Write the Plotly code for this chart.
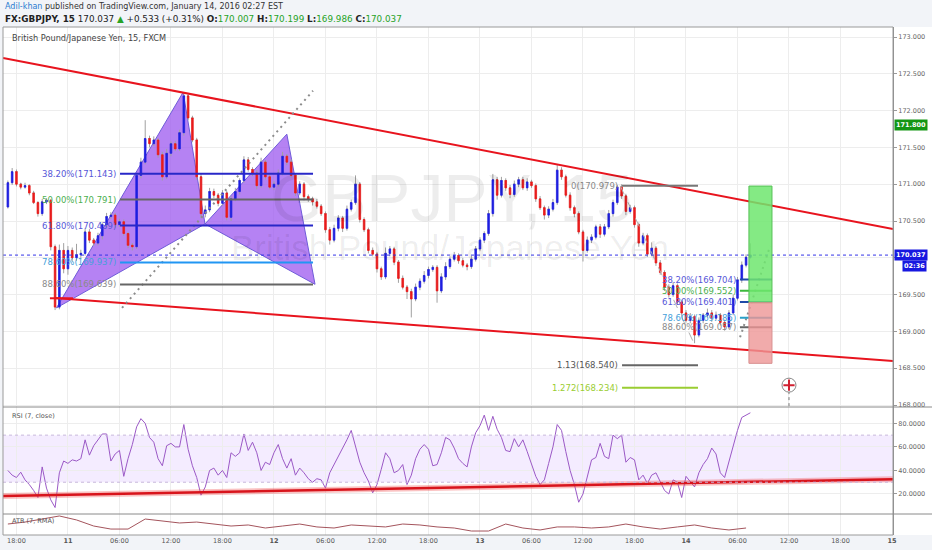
import plotly.graph_objects as go
from plotly.subplots import make_subplots
import pandas as pd

# GBPJPY, taken as 30 minute bars (the chart itself is 15 min)
bar_start = '2016-01-10 17:00'
first_open = 170.69
closes = [
    171.02, 171.17, 171.00, 170.96, 170.98, 170.88, 170.75, 170.60, 170.76, 170.78,
    170.15, 169.33, 170.10, 169.85, 170.10, 170.00, 170.04, 170.06, 170.35, 170.24,
    170.20, 170.30, 170.45, 170.56, 170.58, 170.45, 170.49, 170.33, 170.17, 170.15,
    171.12, 171.30, 171.62, 171.55, 171.60, 171.40, 171.10, 171.42, 171.55, 171.48,
    171.70, 172.20, 171.90, 171.60, 171.10, 170.60, 170.65, 170.90, 170.85, 170.74,
    170.88, 170.55, 170.80, 170.90, 171.05, 171.33, 171.20, 171.15, 170.98, 171.30,
    171.10, 170.96, 171.00, 171.15, 171.38, 171.30, 171.12, 170.88, 171.00, 170.83,
    170.80, 170.76, 170.70, 170.60, 170.38, 170.24, 170.40, 170.54, 170.40, 170.66,
    170.75, 171.00, 170.52, 170.38, 170.10, 170.05, 169.85, 169.74, 170.06, 170.12,
    169.94, 169.72, 169.60, 169.54, 169.44, 169.60, 169.68, 169.76, 169.84, 169.87,
    169.55, 169.74, 169.88, 169.98, 170.03, 169.96, 169.90, 169.88, 169.98, 170.12,
    170.24, 170.33, 170.60, 171.06, 170.85, 171.05, 170.95, 170.86, 171.00, 171.06,
    170.95, 171.03, 170.98, 170.80, 170.68, 170.58, 170.66, 170.75, 171.19, 171.10,
    170.85, 170.68, 170.60, 170.35, 170.10, 170.24, 170.28, 170.42, 170.32, 170.42,
    170.60, 170.75, 170.96, 170.84, 170.63, 170.68, 170.45, 170.20, 170.30, 170.05,
    170.13, 169.93, 169.80, 169.60, 169.50, 169.62, 169.40, 169.25, 169.15, 169.20,
    168.95, 169.15, 169.22, 169.25, 169.18, 169.22, 169.12, 169.06, 169.25, 169.45,
    169.70, 169.90, 170.007, 170.037,
]
# wick lengths in pips above / below the body
wick_up = [
    3, 5, 3, 2, 4, 2, 3, 2, 4, 3,
    2, 3, 8, 10, 6, 4, 15, 5, 5, 4,
    3, 4, 3, 5, 4, 3, 4, 3, 2, 3,
    3, 6, 25, 4, 5, 3, 4, 6, 3, 4,
    4, 5, 4, 3, 3, 4, 6, 5, 4, 3,
    4, 3, 4, 5, 3, 5, 4, 3, 4, 6,
    3, 3, 4, 5, 6, 3, 4, 3, 4, 3,
    3, 3, 4, 3, 3, 4, 5, 4, 3, 5,
    4, 12, 3, 3, 3, 4, 3, 3, 8, 4,
    3, 3, 4, 3, 4, 5, 4, 6, 4, 3,
    3, 5, 6, 4, 5, 3, 4, 3, 5, 4,
    4, 3, 5, 8, 4, 5, 3, 4, 5, 4,
    4, 5, 3, 3, 4, 3, 4, 5, 8, 4,
    3, 4, 3, 3, 3, 5, 4, 3, 4, 4,
    5, 4, 3, 4, 3, 4, 3, 3, 4, 3,
    8, 3, 4, 3, 4, 5, 3, 3, 4, 5,
    3, 4, 3, 6, 4, 5, 3, 4, 4, 5,
    4, 5, 4, 16,
]
wick_dn = [
    2, 3, 3, 3, 2, 3, 2, 4, 3, 3,
    5, 4, 3, 6, 8, 5, 4, 6, 3, 4,
    4, 3, 5, 3, 3, 4, 3, 3, 4, 5,
    3, 4, 3, 5, 3, 4, 5, 3, 4, 3,
    3, 4, 3, 3, 4, 6, 5, 3, 4, 4,
    3, 4, 5, 3, 4, 3, 3, 4, 5, 3,
    4, 3, 4, 3, 3, 4, 3, 4, 3, 5,
    4, 5, 3, 3, 4, 6, 3, 4, 5, 3,
    3, 3, 4, 3, 4, 3, 5, 4, 3, 4,
    4, 6, 3, 10, 25, 3, 4, 3, 4, 3,
    16, 3, 4, 3, 3, 4, 3, 5, 3, 3,
    3, 4, 3, 4, 6, 3, 4, 5, 3, 4,
    3, 4, 3, 4, 3, 6, 4, 3, 3, 4,
    3, 4, 5, 3, 15, 3, 4, 3, 5, 3,
    3, 4, 3, 4, 5, 3, 4, 5, 3, 4,
    3, 4, 3, 5, 4, 3, 4, 5, 3, 4,
    11, 3, 4, 3, 5, 3, 4, 5, 3, 3,
    3, 4, 3, 2,
]
rsi = [
    40, 36, 34, 38.5, 32, 28, 23, 17, 43, 25,
    15, 8.5, 38, 48, 46, 49, 48, 50, 66, 53,
    61, 66, 71, 71, 48, 54, 57, 35, 50, 62,
    77, 84, 80, 68, 64, 50, 44, 61, 63, 60,
    60, 79, 58, 44, 34, 19, 26, 40, 42, 36,
    40, 34, 55, 52, 55, 71, 57, 64, 55, 40,
    47, 45, 55, 62, 50, 42, 50, 36, 42, 38,
    33, 30, 33, 32, 25, 38, 45, 51, 58, 66,
    74, 60, 47, 38, 31, 21, 28, 41, 55, 50,
    38, 40, 45, 28, 36, 50, 58, 62, 58, 44,
    45, 55, 68, 66, 59, 50, 46, 43, 60, 72,
    78, 87, 74, 86, 75, 68, 57, 56, 67, 60,
    66, 56, 45, 35, 28, 32, 46, 60, 79, 74,
    56, 40, 28, 13, 20, 34, 49, 51, 63, 52,
    50, 70, 67, 70, 47, 51, 49, 32, 36, 29,
    36, 38, 31, 23, 20, 32, 30, 17, 35, 30,
    26, 38, 45, 50, 59, 54, 38, 34, 48, 62,
    74, 85, 87, 89,
]
# ATR(7) every 4th bar
atr = [
    0.114, 0.131, 0.157, 0.183, 0.149, 0.097, 0.071, 0.071, 0.157, 0.140,
    0.123, 0.131, 0.114, 0.097, 0.106, 0.080, 0.097, 0.114, 0.089, 0.080,
    0.106, 0.097, 0.089, 0.114, 0.106, 0.089, 0.080, 0.054, 0.054, 0.114,
    0.080, 0.063, 0.089, 0.089, 0.080, 0.089, 0.114, 0.089, 0.071, 0.089,
    0.106, 0.080, 0.063, 0.080,
]

# drawings
pattern_t = ['2016-01-10 22:40', '2016-01-11 13:25', '2016-01-11 15:58', '2016-01-12 01:30', '2016-01-12 04:47']
pattern_p = [169.32, 172.25, 170.46, 171.68, 169.64]
chan_top_t = ['2016-01-10 16:26', '2016-01-15 00:07']
chan_top_p = [172.715, 170.391]
chan_bot_t = ['2016-01-10 22:29', '2016-01-15 00:07']
chan_bot_p = [169.455, 168.598]
stub_t = ['2016-01-10 21:54', '2016-01-11 00:35']
stub_p = [169.45, 169.45]
rsi_trend_t = ['2016-01-10 16:26', '2016-01-15 00:07']
rsi_trend_v = [18.3, 32.6]
proj1_t = ['2016-01-11 06:18', '2016-01-12 04:33']
proj1_p = [169.32, 172.27]
proj2_t = ['2016-01-14 06:18', '2016-01-14 09:48']
proj2_p = [168.92, 170.16]

fib_left_t = ['2016-01-11 06:04', '2016-01-12 04:33']
fib_left_lvl = ['38.20%', '50.00%', '61.80%', '78.60%', '88.60%']
fib_left_p = [171.143, 170.791, 170.439, 169.937, 169.639]
fib_left_txt = ['#5656d8', '#4caf50', '#5656d8', '#45a0da', '#8a8a8a']
fib_left_line = ['#2828c8', '#666666', '#2828c8', '#2196f3', '#666666']

fib_ext_t = ['2016-01-13 16:33', '2016-01-14 01:24']
fib_ext_lvl = ['0', '1.13', '1.272']
fib_ext_p = [170.979, 168.540, 168.234]
fib_ext_txt = ['#8a8a8a', '#555555', '#9acd32']
fib_ext_line = ['#777777', '#666666', '#9acd32']
fib_ext_leg_t = ['2016-01-13 16:20', '2016-01-14 01:00']
fib_ext_leg_p = [170.979, 168.821]

fib_right_t = ['2016-01-14 06:17', '2016-01-14 10:01']
fib_right_lvl = ['38.20%', '50.00%', '61.80%', '78.60%', '88.60%']
fib_right_p = [169.704, 169.552, 169.401, 169.185, 169.057]
fib_right_txt = ['#5656d8', '#4caf50', '#5656d8', '#45a0da', '#8a8a8a']
fib_right_line = ['#1f4aa8', '#3cb83c', '#1f4aa8', '#2aa0c8', '#666666']

box_t = ['2016-01-14 07:20', '2016-01-14 10:01']
box_profit = [169.39, 170.975]
box_stop = [168.566, 169.39]
event_t = '2016-01-14 12:00'
event_p = 168.27

last_price = 170.037
alert_price = 171.800

x_range = ['2016-01-10 16:26', '2016-01-15 00:07']

times = pd.date_range(bar_start, periods=len(closes), freq='30min')
opens = [first_open] + closes[:-1]
body_top = [max(o, c) for o, c in zip(opens, closes)]
body_bot = [min(o, c) for o, c in zip(opens, closes)]
highs = [t + u / 100 for t, u in zip(body_top, wick_up)]
lows = [b - d / 100 for b, d in zip(body_bot, wick_dn)]

UP = '#1f1fe0'
DOWN = '#e81c1c'
FONT = 'DejaVu Sans'

fig = make_subplots(rows=3, cols=1, shared_xaxes=True, vertical_spacing=0,
                    row_heights=[380, 107, 21])

# wicks (grey) then bodies
fig.add_trace(go.Candlestick(
    x=times, open=body_top, close=body_top, high=highs, low=lows,
    increasing=dict(line=dict(color='#a0a0a0', width=1), fillcolor='#a0a0a0'),
    decreasing=dict(line=dict(color='#a0a0a0', width=1), fillcolor='#a0a0a0'),
    hoverinfo='skip', showlegend=False), row=1, col=1)
fig.add_trace(go.Candlestick(
    x=times, open=opens, close=closes, high=body_top, low=body_bot,
    increasing=dict(line=dict(color=UP, width=0.8), fillcolor=UP),
    decreasing=dict(line=dict(color=DOWN, width=0.8), fillcolor=DOWN),
    hoverinfo='skip', showlegend=False), row=1, col=1)


def add_line(t, p, color, width=1, dash=None, row=1):
    fig.add_trace(go.Scatter(x=t, y=p, mode='lines', hoverinfo='skip', showlegend=False,
                             line=dict(color=color, width=width, dash=dash)), row=row, col=1)


# channel
add_line(chan_top_t, chan_top_p, '#e8141e', 2)
add_line(chan_bot_t, chan_bot_p, '#e8141e', 2)
add_line(stub_t, stub_p, '#e8141e', 2)

# projection dots
add_line(proj1_t, proj1_p, '#8c8c8c', 2, '2px,4px')
add_line(proj2_t, proj2_p, '#8c8c8c', 2, '2px,4px')
add_line(fib_ext_leg_t, fib_ext_leg_p, '#b0b0b0', 1, 'dash')

annotations = []


def fib_block(t, levels, prices, txt_colors, line_colors, size=8.5):
    for lvl, p, tc, lc in zip(levels, prices, txt_colors, line_colors):
        add_line(t, [p, p], lc, 2)
        annotations.append(dict(x=t[0], y=p, xref='x', yref='y', text=f'{lvl}({p:.3f})',
                                showarrow=False, xanchor='right', yanchor='middle', xshift=-2,
                                font=dict(family=FONT, size=size, color=tc)))


fib_block(fib_left_t, fib_left_lvl, fib_left_p, fib_left_txt, fib_left_line)
fib_block(fib_ext_t, fib_ext_lvl, fib_ext_p, fib_ext_txt, fib_ext_line)
fib_block(fib_right_t, fib_right_lvl, fib_right_p, fib_right_txt, fib_right_line)

# last price
add_line(x_range, [last_price, last_price], '#3535e8', 1, 'dot')

# event marker
fig.add_trace(go.Scatter(x=[event_t, event_t], y=[event_p, 167.9], mode='lines', hoverinfo='skip',
                         showlegend=False, line=dict(color='#777', width=1, dash='dot')), row=1, col=1)
fig.add_trace(go.Scatter(x=[event_t], y=[event_p], mode='markers', hoverinfo='skip', showlegend=False,
                         marker=dict(symbol='circle', size=14, color='white',
                                     line=dict(color='#888', width=1))), row=1, col=1)
fig.add_trace(go.Scatter(x=[event_t], y=[event_p], mode='markers', hoverinfo='skip', showlegend=False,
                         marker=dict(symbol='cross-thin', size=8, line=dict(color='#d02030', width=2))),
              row=1, col=1)

# RSI
fig.add_trace(go.Scatter(x=times, y=rsi, mode='lines', hoverinfo='skip', showlegend=False,
                         line=dict(color='#9b59c6', width=1)), row=2, col=1)
add_line(rsi_trend_t, rsi_trend_v, 'rgba(240,80,80,0.35)', 6, row=2)
add_line(rsi_trend_t, rsi_trend_v, '#d8141c', 2.5, row=2)

# ATR
fig.add_trace(go.Scatter(x=times[::4], y=atr, mode='lines', hoverinfo='skip', showlegend=False,
                         line=dict(color='#a4545c', width=1)), row=3, col=1)


def px(x, y):
    # pixel position in the 932x550 page -> paper coordinates
    return (x - 3) / 890, (535 - y) / 508


def path_of(ts, ps):
    pts = [f"{pd.Timestamp(t).strftime('%Y-%m-%d_%H:%M:%S')},{p}" for t, p in zip(ts, ps)]
    return 'M ' + ' L '.join(pts) + ' Z'


shapes = [
    # harmonic pattern triangles XAB and BCD
    dict(type='path', xref='x', yref='y', layer='between',
         path=path_of(pattern_t[0:3], pattern_p[0:3]),
         fillcolor='rgba(160,95,240,0.78)', line=dict(color='#6f5bd8', width=1)),
    dict(type='path', xref='x', yref='y', layer='between',
         path=path_of(pattern_t[2:5], pattern_p[2:5]),
         fillcolor='rgba(160,95,240,0.78)', line=dict(color='#6f5bd8', width=1)),
    # long position boxes
    dict(type='rect', xref='x', yref='y', x0=box_t[0], x1=box_t[1], y0=box_profit[0], y1=box_profit[1],
         fillcolor='rgba(110,230,110,0.85)', line=dict(color='#55c055', width=1)),
    dict(type='rect', xref='x', yref='y', x0=box_t[0], x1=box_t[1], y0=box_stop[0], y1=box_stop[1],
         fillcolor='rgba(238,150,150,0.8)', line=dict(color='#d89090', width=1)),
    # RSI band
    dict(type='rect', xref='paper', yref='y2', x0=0, x1=1, y0=30, y1=70, layer='below',
         fillcolor='rgba(170,110,255,0.13)', line=dict(width=0)),
    dict(type='line', xref='paper', yref='y2', x0=0, x1=1, y0=70, y1=70,
         line=dict(color='#c8b8dc', width=1, dash='dot')),
    dict(type='line', xref='paper', yref='y2', x0=0, x1=1, y0=30, y1=30,
         line=dict(color='#c8b8dc', width=1, dash='dot')),
    # right axis background, frame and pane dividers
    dict(type='rect', xref='paper', yref='paper', x0=1, x1=1 + 39 / 890, y0=0, y1=1, layer='below',
         fillcolor='white', line=dict(width=0)),
    dict(type='rect', xref='paper', yref='paper', x0=0, x1=1, y0=0, y1=1,
         line=dict(color='#9a9a9a', width=1)),
    dict(type='line', xref='paper', yref='paper', x0=0, x1=1 + 39 / 890, y0=px(0, 407)[1], y1=px(0, 407)[1],
         line=dict(color='#8a8a8a', width=1)),
    dict(type='line', xref='paper', yref='paper', x0=0, x1=1 + 39 / 890, y0=px(0, 514)[1], y1=px(0, 514)[1],
         line=dict(color='#8a8a8a', width=1)),
]

# watermark and labels
wx, wy = px(452, 198)
annotations.append(dict(x=wx, y=wy, xref='paper', yref='paper', text='GBPJPY, 15', showarrow=False,
                        font=dict(family='Liberation Sans', size=66, color='rgba(0,0,0,0.07)')))
wx, wy = px(450, 247)
annotations.append(dict(x=wx, y=wy, xref='paper', yref='paper', text='British Pound/Japanese Yen',
                        showarrow=False,
                        font=dict(family='Liberation Sans', size=35, color='rgba(0,0,0,0.07)')))

hx, hy = px(3, 6)
annotations.append(dict(x=hx, y=hy, xref='paper', yref='paper', xanchor='left', yanchor='middle',
                        showarrow=False,
                        text="<span style='color:#2a7bd0'>Adil-khan</span> published on TradingView.com, "
                             "January 14, 2016 02:27 EST",
                        font=dict(family=FONT, size=8, color='#333')))
hx, hy = px(3, 19)
g = "<span style='color:#27a327'>"
annotations.append(dict(x=hx, y=hy, xref='paper', yref='paper', xanchor='left', yanchor='middle',
                        showarrow=False,
                        text=f"<b>FX:GBPJPY, 15</b> 170.037 {g}▲</span> +0.533 (+0.31%) "
                             f"<b>O:</b>{g}170.007</span> <b>H:</b>{g}170.199</span> "
                             f"<b>L:</b>{g}169.986</span> <b>C:</b>{g}170.037</span>",
                        font=dict(family=FONT, size=8.8, color='#222')))
hx, hy = px(10, 38)
annotations.append(dict(x=hx, y=hy, xref='paper', yref='paper', xanchor='left', yanchor='middle',
                        showarrow=False, text='British Pound/Japanese Yen, 15, FXCM',
                        font=dict(family=FONT, size=8.2, color='#444')))
hx, hy = px(10, 416)
annotations.append(dict(x=hx, y=hy, xref='paper', yref='paper', xanchor='left', yanchor='middle',
                        showarrow=False, text='RSI (7, close)', font=dict(family=FONT, size=6.5, color='#555')))
hx, hy = px(10, 521)
annotations.append(dict(x=hx, y=hy, xref='paper', yref='paper', xanchor='left', yanchor='middle',
                        showarrow=False, text='ATR (7, RMA)', font=dict(family=FONT, size=6.5, color='#555')))

# price tags on the right axis
for price, bg in [(last_price, '#1717e0'), (alert_price, '#149614')]:
    annotations.append(dict(x=1, y=price, xref='paper', yref='y', xanchor='left', yanchor='middle',
                            showarrow=False, text=f'<b>{price:.3f}</b>', bgcolor=bg, borderpad=1, xshift=1,
                            font=dict(family=FONT, size=6.5, color='white')))
annotations.append(dict(x=1 + 34 / 890, y=last_price, xref='paper', yref='y', xanchor='right',
                        yanchor='middle', showarrow=False, text='<b>02:36</b>', bgcolor='#1717e0',
                        borderpad=1, yshift=-11, font=dict(family=FONT, size=6.5, color='white')))

tick_times = pd.date_range('2016-01-10 18:00', '2016-01-15 00:00', freq='6h')
tick_text = [f'<b>{t.day}</b>' if t.hour == 0 else t.strftime('%H:%M') for t in tick_times]

fig.update_xaxes(range=x_range, tickvals=tick_times, ticktext=tick_text, showgrid=True,
                 gridcolor='#ededed', rangeslider_visible=False, ticks='',
                 tickfont=dict(family=FONT, size=6.5, color='#555'))
fig.update_yaxes(side='right', showgrid=True, gridcolor='#ededed', ticks='outside', ticklen=3,
                 tickcolor='#999', showline=True, linecolor='#8a8a8a', zeroline=False,
                 tickfont=dict(family=FONT, size=6.5, color='#666'))
fig.update_yaxes(range=[167.973, 173.136], tickvals=[168 + 0.5 * i for i in range(11)],
                 tickformat='.3f', row=1, col=1)
fig.update_yaxes(range=[3, 93.9], tickvals=[20, 40, 60, 80], tickformat='.4f', row=2, col=1)
fig.update_yaxes(range=[0.02, 0.20], showticklabels=False, showgrid=False, ticks='', row=3, col=1)

fig.update_layout(
    width=932, height=550,
    margin=dict(l=3, r=39, t=27, b=15),
    paper_bgcolor='#f2f4f8', plot_bgcolor='white',
    showlegend=False, shapes=shapes, annotations=annotations,
    font=dict(family=FONT), boxgap=0.45,
)

# the page's default body margin would push the 932x550 figure off the window
fig.write_html('out.html', config={'displayModeBar': False},
               post_script="document.body.style.margin='0px';")
